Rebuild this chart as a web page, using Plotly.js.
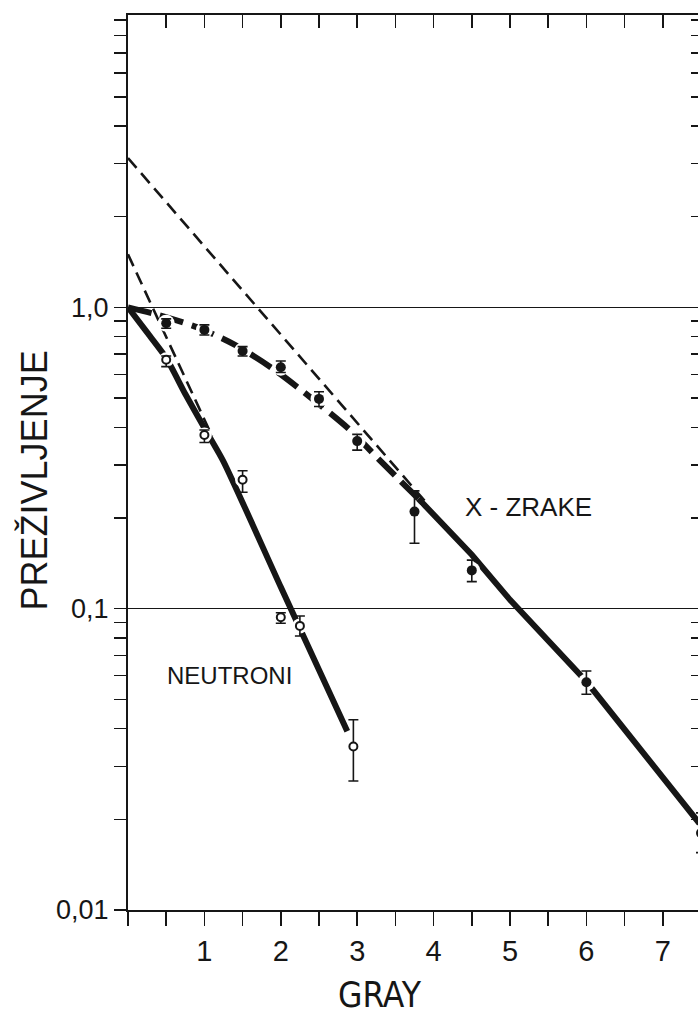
<!DOCTYPE html>
<html>
<head>
<meta charset="utf-8">
<script src="https://cdn.plot.ly/plotly-3.0.1.min.js"></script>
<style>
html, body { margin:0; padding:0; overflow:hidden; background:#fff; }
#chart { width:710px; height:1017px; }
</style>
</head>
<body>
<div id="chart"></div>
<script>
// ---- data ----
// X-rays (filled circles): dose in Gy, survival, error-bar bounds
var xrayDose  = [0.5, 1.0, 1.5, 2.0, 2.5, 3.0, 3.75, 4.5, 6.0, 7.5];
var xraySurv  = [0.886, 0.842, 0.717, 0.633, 0.497, 0.360, 0.210, 0.134, 0.057, 0.018];
var xrayHigh  = [0.916, 0.875, 0.741, 0.664, 0.525, 0.379, 0.246, 0.145, 0.0621, 0.021];
var xrayLow   = [0.853, 0.810, 0.690, 0.608, 0.469, 0.336, 0.165, 0.123, 0.052, 0.0155];

// Neutrons (open circles)
var neutDose  = [0.5, 1.0, 1.5, 2.0, 2.25, 2.95];
var neutSurv  = [0.670, 0.377, 0.268, 0.0937, 0.0877, 0.0349];
var neutHigh  = [0.690, 0.392, 0.287, 0.0970, 0.0946, 0.0428];
var neutLow   = [0.636, 0.356, 0.2435, 0.0895, 0.0812, 0.0268];

// fitted survival curves (thick lines)
var xrayFitCurveDose = [0, 0.4, 0.9, 1.4, 1.9, 2.4, 2.9, 3.3, 3.8];
var xrayFitCurveSurv = [1.0, 0.944, 0.860, 0.751, 0.625, 0.500, 0.393, 0.310, 0.232];
var xrayFitLineDose  = [3.8, 4.5, 5.0, 6.0, 7.5];
var xrayFitLineSurv  = [0.232, 0.151, 0.107, 0.0573, 0.0191];
var neutFitDose = [0, 0.25, 0.5, 0.75, 1.0, 1.25, 2.0, 2.87];
var neutFitSurv = [1.0, 0.826, 0.680, 0.516, 0.398, 0.308, 0.118, 0.0392];

// extrapolations of the exponential parts (thin dashed)
var xrayExtrapDose = [0, 3.9];
var xrayExtrapSurv = [3.13, 0.2255];
var neutExtrapDose = [0, 1.1];
var neutExtrapSurv = [1.50, 0.374];

// axes
var xTickVals = [0, 0.5, 1, 1.5, 2, 2.5, 3, 3.5, 4, 4.5, 5, 5.5, 6, 6.5, 7, 7.5];
var xTickText = ['', '', '1', '', '2', '', '3', '', '4', '', '5', '', '6', '', '7', ''];
var yTickVals = [0.01, 0.1, 1];
var yTickText = ['0,01', '0,1', '1,0'];
var yMinorVals = [0.02,0.03,0.04,0.05,0.06,0.07,0.08,0.09,
                  0.2,0.3,0.4,0.5,0.6,0.7,0.8,0.9,
                  2,3,4,5,6,7,8,9];

// labels
var xrayLabel = 'X - ZRAKE';
var neutLabel = 'NEUTRONI';
var xTitle = 'GRAY';
var yTitle = 'PREŽIVLJENJE';

// ---- drawing ----
var INK = '#161616';
var FONT = 'Liberation Sans, Arial, Helvetica, sans-serif';

function diff(a, b) { return a.map(function (v, i) { return v - b[i]; }); }

var traces = [
  { x: xrayExtrapDose, y: xrayExtrapSurv, mode: 'lines', hoverinfo: 'skip',
    line: { color: INK, width: 2.6, dash: '13px,7px' } },
  { x: neutExtrapDose, y: neutExtrapSurv, mode: 'lines', hoverinfo: 'skip',
    line: { color: INK, width: 2.6, dash: '13px,7px' } },
  { x: xrayFitCurveDose, y: xrayFitCurveSurv, mode: 'lines', line: { color: INK, width: 6, shape: 'spline', smoothing: 0.8, dash: '24px,9px' } },
  { x: xrayFitLineDose, y: xrayFitLineSurv, mode: 'lines', line: { color: INK, width: 6 } },
  { x: neutFitDose, y: neutFitSurv, mode: 'lines', line: { color: INK, width: 6, shape: 'spline', smoothing: 0.6 } },
  // white halos that break the thick lines around the data points
  { x: xrayDose, y: xraySurv, mode: 'markers', hoverinfo: 'skip',
    marker: { color: '#fff', size: 17, line: { width: 0 } } },
  { x: neutDose, y: neutSurv, mode: 'markers', hoverinfo: 'skip',
    marker: { color: '#fff', size: 15, line: { width: 0 } } },
  { x: xrayDose, y: xraySurv, mode: 'markers', name: 'X-zrake',
    marker: { color: INK, size: 10, symbol: 'circle' },
    error_y: { type: 'data', symmetric: false, array: diff(xrayHigh, xraySurv), arrayminus: diff(xraySurv, xrayLow),
               color: INK, thickness: 1.6, width: 5 } },
  { x: neutDose, y: neutSurv, mode: 'markers', name: 'Neutroni',
    marker: { color: '#fff', size: 8, symbol: 'circle', line: { color: INK, width: 2 } },
    error_y: { type: 'data', symmetric: false, array: diff(neutHigh, neutSurv), arrayminus: diff(neutSurv, neutLow),
               color: INK, thickness: 1.6, width: 5 } },
  // invisible carriers so that the mirrored top and right axes are drawn
  { x: [xTickVals[0]], y: [yTickVals[2]], xaxis: 'x2', yaxis: 'y', mode: 'markers',
    marker: { opacity: 0 }, hoverinfo: 'skip' },
  { x: [xTickVals[0]], y: [yTickVals[2]], xaxis: 'x', yaxis: 'y2', mode: 'markers',
    marker: { opacity: 0 }, hoverinfo: 'skip' }
];

var yRange = [-2, 0.9705];

var layout = {
  width: 710, height: 1017,
  margin: { l: 128, r: 9, t: 15, b: 107 },
  paper_bgcolor: '#fff', plot_bgcolor: '#fff',
  showlegend: false,
  font: { family: FONT, color: INK },
  xaxis: {
    range: [0, 7.5], tickmode: 'array', tickvals: xTickVals, ticktext: xTickText,
    ticks: 'outside', ticklen: 14, tickwidth: 1.5, tickcolor: INK,
    showline: true, linewidth: 2, linecolor: INK, showgrid: false, zeroline: false,
    tickfont: { size: 29, family: FONT, color: INK }, ticklabelstandoff: 0
  },
  xaxis2: {
    overlaying: 'x', side: 'top', range: [0, 7.5], tickmode: 'array', tickvals: xTickVals,
    showticklabels: false, ticks: 'inside', ticklen: 13, tickwidth: 1.5, tickcolor: INK,
    showline: true, linewidth: 2, linecolor: INK, showgrid: false, zeroline: false
  },
  yaxis: {
    type: 'log', range: yRange, tickmode: 'array', tickvals: yTickVals, ticktext: yTickText,
    ticks: 'outside', ticklen: 12, tickwidth: 1.5, tickcolor: INK,
    showline: true, linewidth: 2, linecolor: INK,
    showgrid: true, gridcolor: INK, gridwidth: 1.5, zeroline: false,
    tickfont: { size: 27, family: FONT, color: INK }, ticklabelstandoff: 0,
    minor: { tickmode: 'array', tickvals: yMinorVals, ticks: 'outside', ticklen: 12, tickwidth: 1.5, tickcolor: INK, showgrid: false }
  },
  yaxis2: {
    overlaying: 'y', side: 'right', type: 'log', range: yRange, tickmode: 'array', tickvals: yTickVals,
    showticklabels: false, ticks: 'inside', ticklen: 10, tickwidth: 1.5, tickcolor: INK,
    showline: true, linewidth: 2, linecolor: INK, showgrid: false, zeroline: false,
    minor: { tickmode: 'array', tickvals: yMinorVals, ticks: 'inside', ticklen: 10, tickwidth: 1.5, tickcolor: INK, showgrid: false }
  },
  annotations: [
    { text: xrayLabel, xref: 'x', yref: 'y', x: 5.24, y: Math.log10(0.218), showarrow: false,
      xanchor: 'center', yanchor: 'middle', font: { size: 26, family: FONT, color: INK } },
    { text: neutLabel, xref: 'x', yref: 'y', x: 1.335, y: Math.log10(0.0598), showarrow: false,
      xanchor: 'center', yanchor: 'middle', font: { size: 24, family: FONT, color: INK } },
    { text: xTitle, xref: 'x', yref: 'paper', x: 3.3, y: -0.1195, showarrow: false,
      xanchor: 'center', yanchor: 'bottom',
      font: { size: 35, family: 'Liberation Sans Narrow, DejaVu Sans Condensed, Liberation Sans, sans-serif', color: INK } },
    { text: yTitle, xref: 'paper', yref: 'paper', x: -0.164, y: 0.48, textangle: -90, showarrow: false,
      xanchor: 'center', yanchor: 'middle', font: { size: 36, family: FONT, color: INK } }
  ]
};

Plotly.newPlot('chart', traces, layout, { displayModeBar: false, staticPlot: true });
</script>
</body>
</html>
